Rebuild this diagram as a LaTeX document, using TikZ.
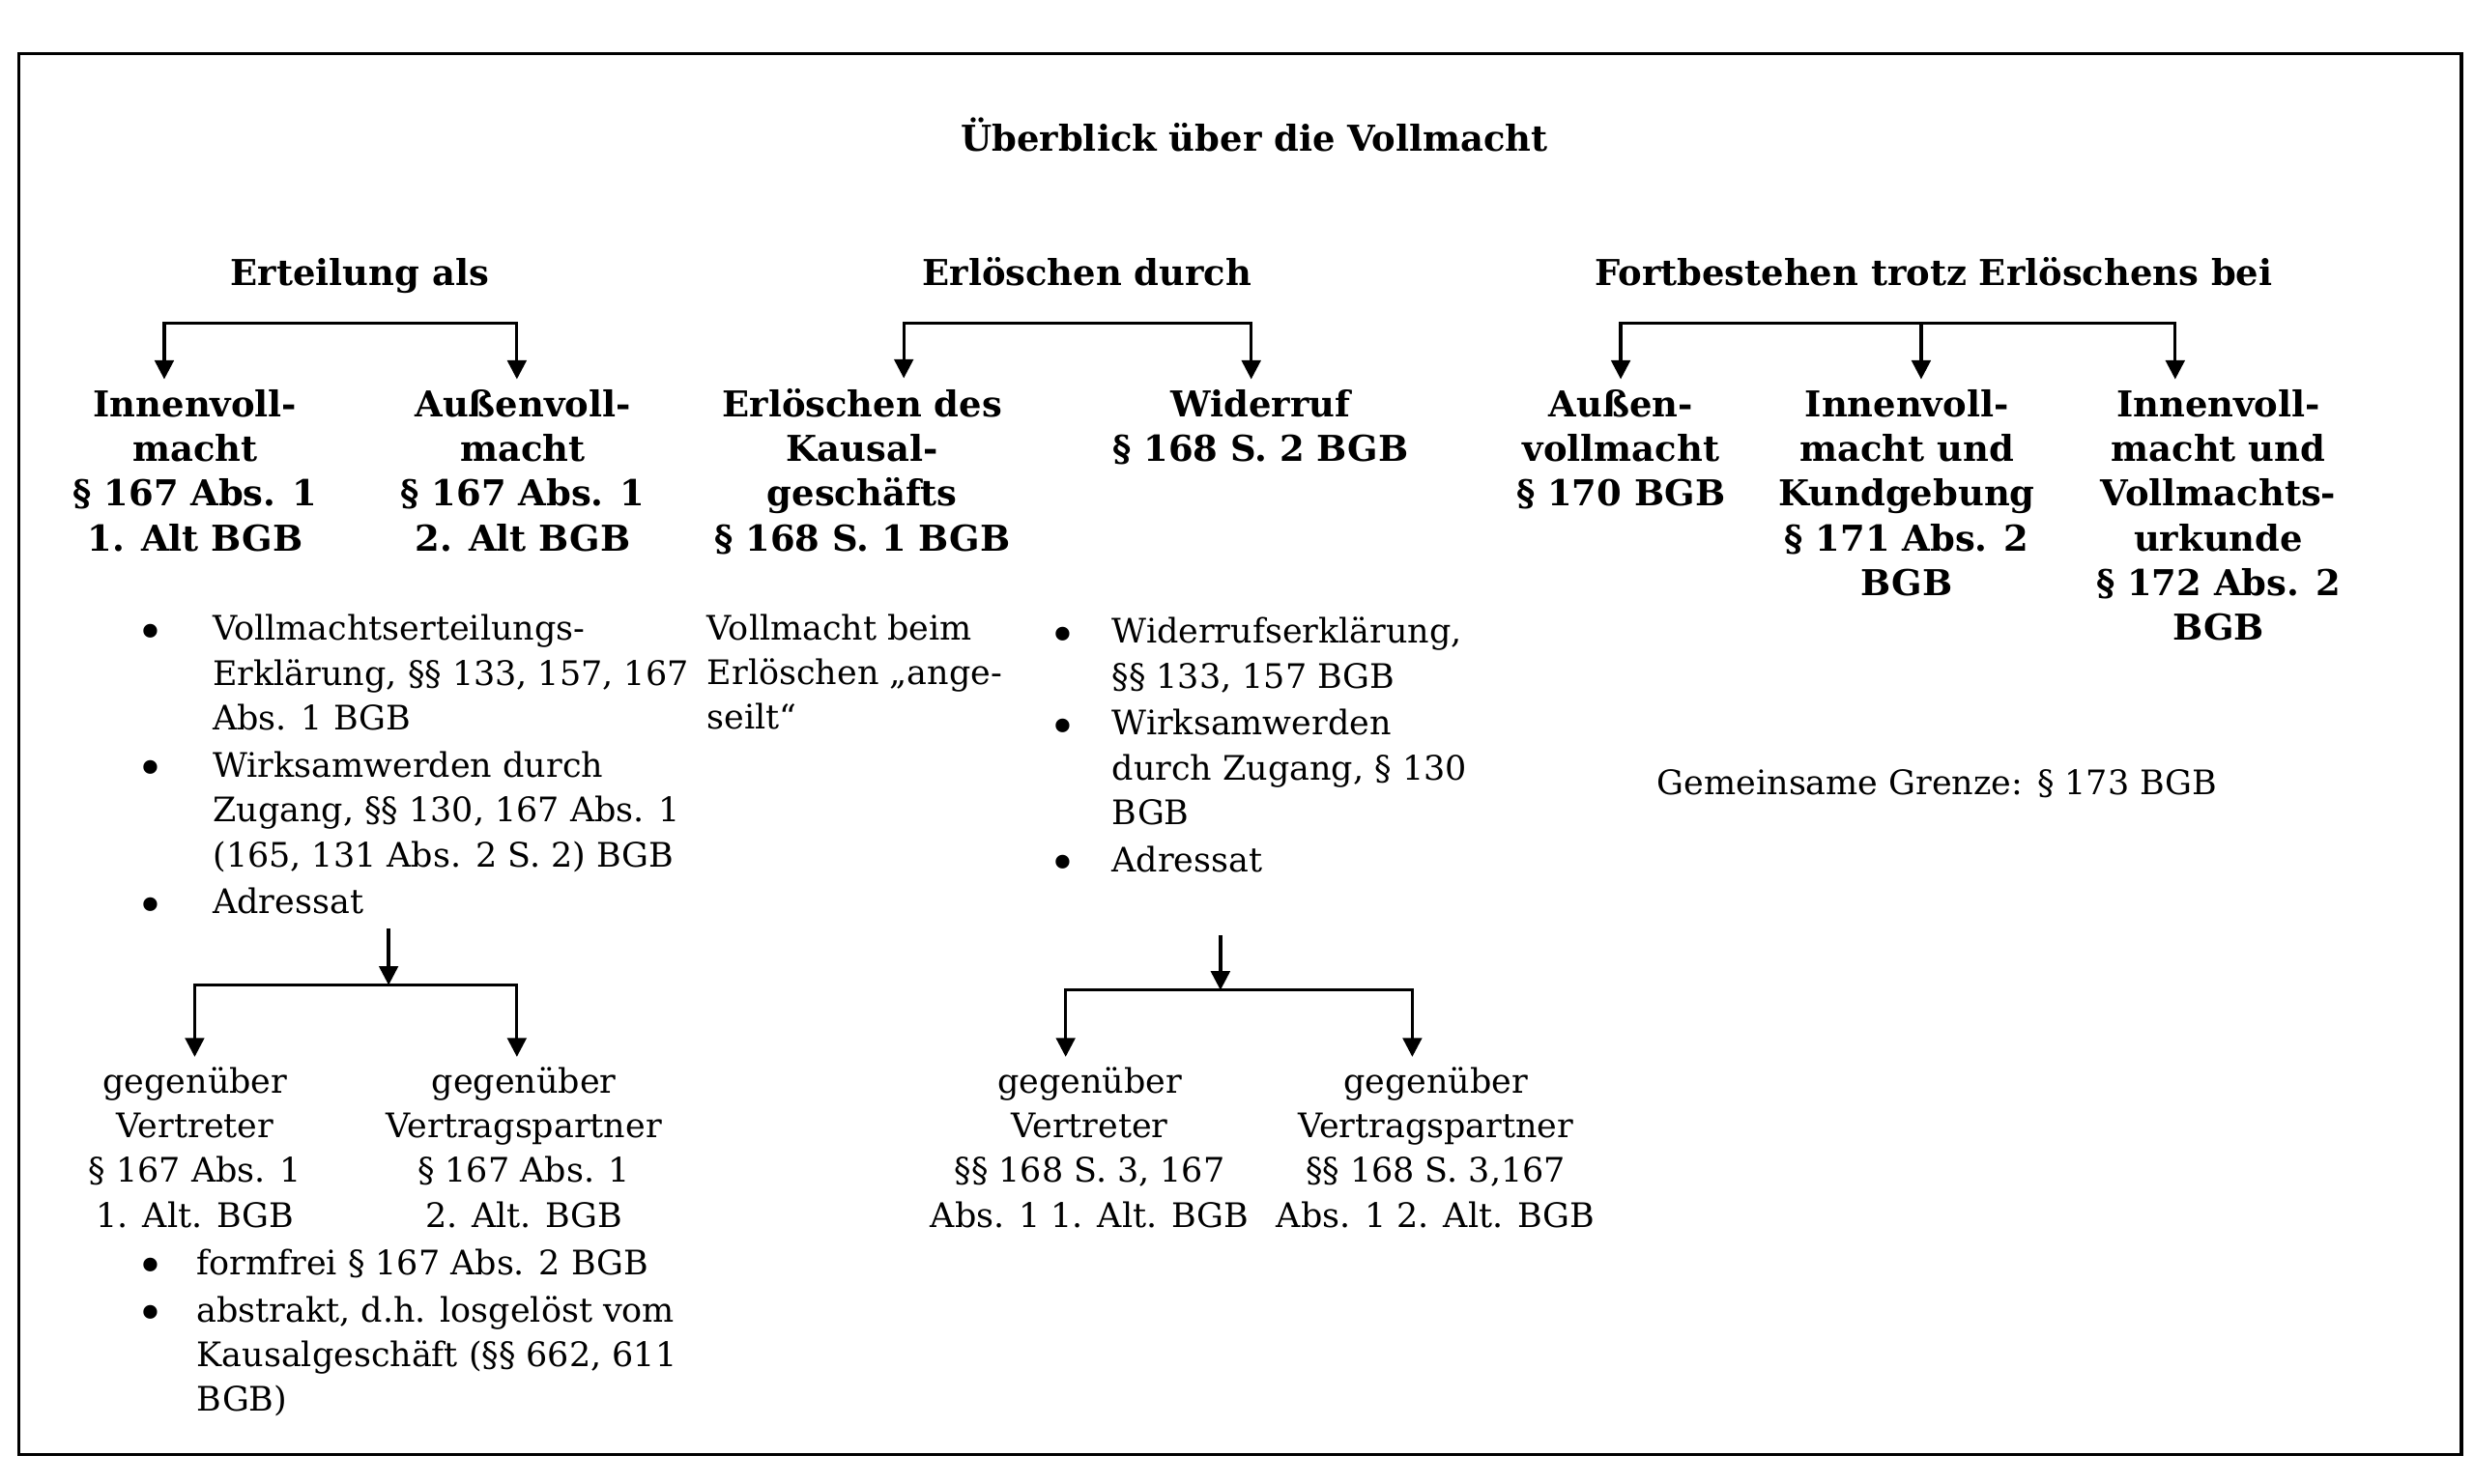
\documentclass[tikz,border=0pt]{standalone}
\usepackage{fontspec}
\setmainfont{DejaVu Serif}
\usepackage{tikz}
\usetikzlibrary{arrows.meta}
\newcommand{\basefont}{\fontsize{10.7}{14.2}\selectfont}
\newcommand{\boldfont}{\fontsize{11.3}{14.2}\selectfont\bfseries}
\newcommand{\bul}[1]{\makebox[#1][l]{\makebox[0pt][c]{\raisebox{-2.6pt}{\scalebox{1.4}{\textbullet}}}}}
\newcommand{\cont}[1]{\hspace*{#1}}

\begin{document}
\begin{tikzpicture}[x=0.5pt, y=-0.5pt,
        txt/.style={align=center, inner sep=3pt, anchor=base, font=\basefont},
        hd/.style={txt, font=\boldfont},
        lst/.style={align=left, inner xsep=0pt, inner ysep=3pt, anchor=base west, font=\basefont},
        arr/.style={-{Triangle[length=6pt,width=6pt]}, line width=1pt},
        arrs/.style={{Triangle[length=6pt,width=6pt]}-{Triangle[length=6pt,width=6pt]}, line width=1pt}]
        \useasboundingbox (0,0) rectangle (1568,940.8);
        \draw[line width=1pt] (12,34) rectangle (1560,922);

        \node[hd] (title) at (795,96) {Überblick über die Vollmacht};
        \node[hd] (erteilung) at (228,181) {Erteilung als};
        \node[hd] (erloeschen) at (689,181) {Erlöschen durch};
        \node[hd] (fortbestehen) at (1225.5,181) {Fortbestehen trotz Erlöschens bei};

        \node[hd] (innen) at (123.7,349.2) {Innenvoll-\\macht\\§ 167 Abs. 1\\1. Alt BGB};
        \node[hd] (aussen) at (331.4,349.2) {Außenvoll-\\macht\\§ 167 Abs. 1\\2. Alt BGB};
        \node[hd] (kausal) at (546.5,349.2) {Erlöschen des\\Kausal-\\geschäfts\\§ 168 S. 1 BGB};
        \node[hd] (widerruf) at (799,292.4) {Widerruf\\§ 168 S. 2 BGB};
        \node[hd] (aussenvm) at (1027.4,320.8) {Außen-\\vollmacht\\§ 170 BGB};
        \node[hd] (kundgebung) at (1208.5,377.6) {Innenvoll-\\macht und\\Kundgebung\\§ 171 Abs. 2\\BGB};
        \node[hd] (urkunde) at (1406,406) {Innenvoll-\\macht und\\Vollmachts-\\urkunde\\§ 172 Abs. 2\\BGB};

        \coordinate (e1) at (104.1,205);
        \coordinate (e2) at (327.6,205);
        \coordinate (e3) at (572.8,205);
        \coordinate (e4) at (793,205);
        \coordinate (e5) at (1027.2,205);
        \coordinate (e6) at (1217.6,205);
        \coordinate (e7) at (1378.6,205);
        \draw[arrs] (innen.north -| e1) -- (e1) -- (e2) -- (e2 |- aussen.north);
        \draw[arrs] (kausal.north -| e3) -- (e3) -- (e4) -- (e4 |- widerruf.north);
        \draw[arrs] (aussenvm.north -| e5) -- (e5) -- (e7) -- (e7 |- urkunde.north);
        \draw[arr] (e6) -- (e6 |- kundgebung.north);

        \node[lst] (erklaerung) at (95.4,579.4) {\bul{19.6pt}Vollmachtserteilungs-\\\cont{19.6pt}Erklärung, §§ 133, 157, 167\\\cont{19.6pt}Abs. 1 BGB\\[0.75pt]\bul{19.6pt}Wirksamwerden durch\\\cont{19.6pt}Zugang, §§ 130, 167 Abs. 1\\\cont{19.6pt}(165, 131 Abs. 2 S. 2) BGB\\[0.75pt]\bul{19.6pt}Adressat};
        \node[lst] (angeseilt) at (447.9,462.3) {Vollmacht beim\\Erlöschen „ange-\\seilt“};
        \node[lst] (widerrufserkl) at (673,552.7) {\bul{15.7pt}Widerrufserklärung,\\\cont{15.7pt}§§ 133, 157 BGB\\[0.75pt]\bul{15.7pt}Wirksamwerden\\\cont{15.7pt}durch Zugang, § 130\\\cont{15.7pt}BGB\\[0.75pt]\bul{15.7pt}Adressat};
        \node[lst] (grenze) at (1050,503.5) {Gemeinsame Grenze: § 173 BGB};

        \coordinate (i1) at (246.3,588.6);
        \coordinate (j1) at (246.3,624.5);
        \coordinate (k1) at (123.4,624.5);
        \coordinate (k2) at (327.6,624.5);
        \coordinate (i2) at (773.5,593);
        \coordinate (j2) at (773.5,627.7);
        \coordinate (k3) at (675.4,627.7);
        \coordinate (k4) at (895.1,627.7);

        \node[txt] (vertreterA) at (123.7,778) {gegenüber\\Vertreter\\§ 167 Abs. 1\\1. Alt. BGB};
        \node[txt] (partnerA) at (332.1,778) {gegenüber\\Vertragspartner\\§ 167 Abs. 1\\2. Alt. BGB};
        \node[txt] (vertreterB) at (690.6,778) {gegenüber\\Vertreter\\§§ 168 S. 3, 167\\Abs. 1 1. Alt. BGB};
        \node[txt] (partnerB) at (909.9,778) {gegenüber\\Vertragspartner\\§§ 168 S. 3,167\\Abs. 1 2. Alt. BGB};
        \node[lst] (formfrei) at (95.4,894.7) {\bul{14.5pt}formfrei § 167 Abs. 2 BGB\\[0.75pt]\bul{14.5pt}abstrakt, d.h. losgelöst vom\\\cont{14.5pt}Kausalgeschäft (§§ 662, 611\\\cont{14.5pt}BGB)};

        \draw[arr] (i1) -- (j1);
        \draw[arrs] (vertreterA.north -| k1) -- (k1) -- (k2) -- (k2 |- partnerA.north);
        \draw[arr] (i2) -- (j2);
        \draw[arrs] (vertreterB.north -| k3) -- (k3) -- (k4) -- (k4 |- partnerB.north);
    \end{tikzpicture}
\end{document}
